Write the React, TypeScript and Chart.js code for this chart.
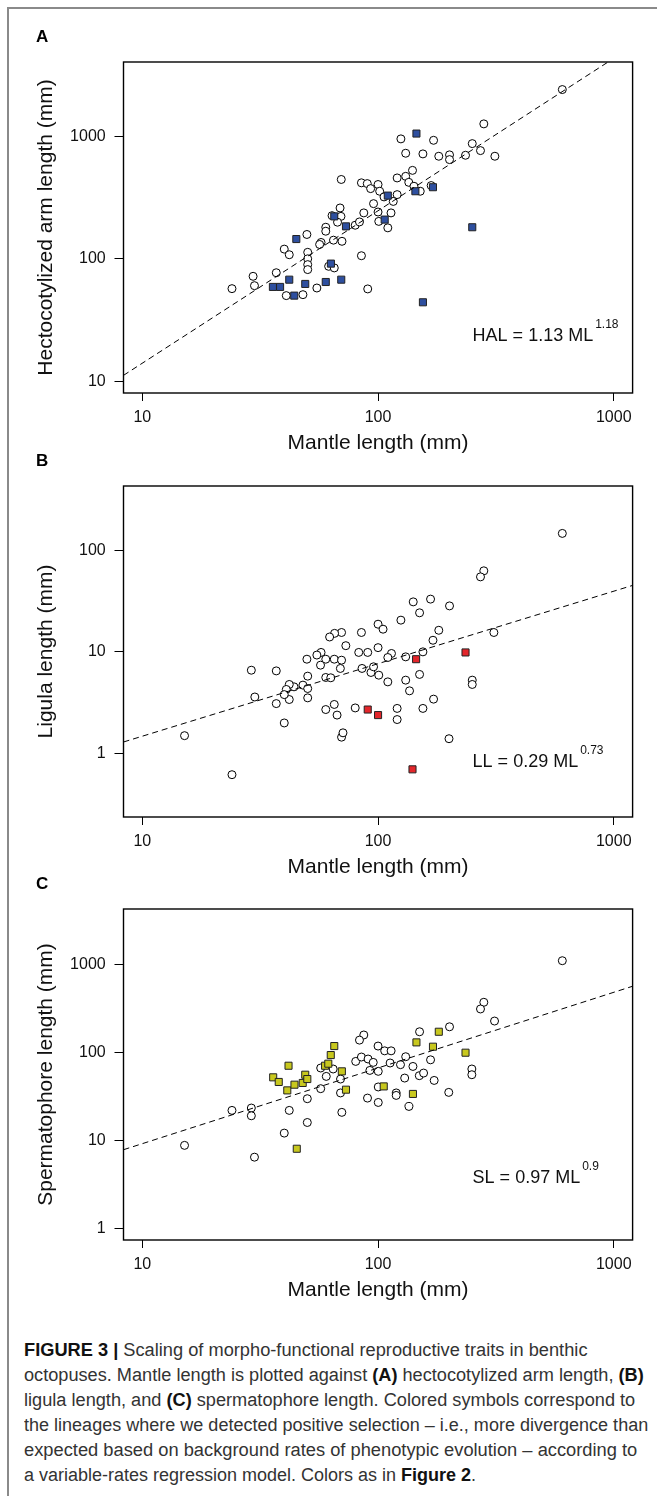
import React, { useEffect, useLayoutEffect, useRef } from 'react';
import { Chart, registerables } from 'chart.js';

Chart.register(...registerables);

const FONT = "'Liberation Sans', Arial, Helvetica, sans-serif";

// ---------- shared x axis (mantle length, mm) ----------
const xTickValues = [10, 100, 1000];
const xMin = 8.318;
const xMax = 1202;

// ---------- Panel A: hectocotylized arm length ----------
const aOpenML = [605, 281, 125, 172, 251, 131, 155, 181, 201, 201, 235, 272, 313, 140, 120.5, 131, 135, 142, 168, 151, 69.8, 85, 90, 93, 100, 101.6, 120.5, 106, 116, 95.7, 69, 87, 100, 113.5, 63.8, 69.6, 67.3, 80, 83.4, 100.7, 110, 60, 60, 49.9, 57.3, 56.5, 64.7, 70.3, 40, 42, 50.3, 50.3, 50.3, 50.3, 85, 61.7, 65.2, 55, 90.4, 40.8, 48, 24, 29.9, 29.5, 37];
const aOpenHAL = [2405, 1262, 952, 927, 871, 727, 718, 687, 705, 645, 700, 764, 687, 527, 457, 471, 421, 391, 396, 356, 444, 417, 411, 374, 404, 356, 334, 320, 294, 282, 260, 237, 241, 237, 225, 222, 199, 188, 200, 202, 179, 181, 168, 158, 136, 131, 142, 139, 120, 108, 113, 100, 89.7, 81.7, 106, 86.9, 84.3, 57.8, 56.8, 50.1, 51, 57.1, 60.4, 72, 77];
const aSelML = [145.5, 171, 144, 110, 65.2, 73.1, 106.7, 45, 63.1, 42, 49.1, 60, 69.8, 251, 155, 44.1, 35.8, 38.4];
const aSelHAL = [1052, 384, 356, 328, 222, 184, 209, 145, 91.4, 67.6, 62.4, 64.7, 67.6, 181, 44.2, 50.1, 59, 59];
const aFitML = [8.318, 946];
const aFitHAL = [11.2, 4036];
const aYTicks = [10, 100, 1000];

// ---------- Panel B: ligula length ----------
const bOpenML = [605, 281, 272, 141, 167, 201, 150, 125, 100, 105, 181, 310, 171, 85, 70, 65.4, 62.3, 73, 100, 82.8, 90.4, 114, 110, 131, 155, 57.3, 55, 49.9, 60, 65.2, 70, 69.2, 57, 85.5, 93.3, 95.7, 100.7, 110, 131, 136, 150, 251, 251, 172, 155, 120.5, 120.5, 80, 65.2, 60, 67, 48, 50.3, 50.3, 50.3, 44, 42, 40.8, 42, 60, 63, 15.1, 24, 29, 30, 37, 37, 40, 40, 70, 71, 200];
const bOpenLL = [146, 62.6, 54.6, 31, 33, 28.3, 24.2, 20.5, 18.7, 16.7, 16.3, 15.5, 13, 15.5, 15.5, 15.2, 14, 11.5, 11, 9.87, 9.87, 9.64, 8.8, 8.93, 10, 9.87, 9.3, 8.47, 8.47, 8.47, 8.28, 6.87, 7.4, 6.87, 6.27, 7.13, 5.9, 5.07, 5.27, 4.14, 6.0, 5.27, 4.78, 3.43, 2.78, 2.78, 2.16, 2.81, 3.04, 2.71, 2.39, 4.71, 5.77, 4.36, 3.53, 4.53, 4.78, 4.27, 3.4, 5.6, 5.56, 1.5, 0.62, 6.6, 3.6, 6.5, 3.1, 2.0, 3.8, 1.45, 1.6, 1.4];
const bSelML = [145, 235, 90.4, 100, 140];
const bSelLL = [8.47, 9.87, 2.71, 2.39, 0.7];
const bFitML = [8.318, 1202];
const bFitLL = [1.3, 45];
const bYTicks = [1, 10, 100];

// ---------- Panel C: spermatophore length ----------
const cOpenML = [605, 281, 272, 312, 201, 150, 87, 83.4, 100, 106.7, 113.6, 131, 167, 15.1, 24, 29, 29, 29.9, 40, 42, 50.1, 50.1, 57.1, 60.3, 57.1, 64.5, 69.3, 69.3, 70.2, 80.4, 85, 90.7, 95.4, 92.3, 100.2, 100.2, 90.2, 100.2, 112.5, 119.4, 119.4, 124.5, 140.6, 129.7, 135.2, 149.6, 156, 173, 199.5, 250, 250];
const cOpenSL = [1110, 374, 314, 229, 197, 173, 159, 139, 119, 105, 105, 90, 83, 8.85, 22.1, 23.5, 19.2, 6.5, 12.2, 22.1, 16.1, 30, 67, 53.8, 39, 65.3, 50.2, 34.9, 21, 79.6, 89.3, 84.8, 77.6, 62.9, 61.4, 40.8, 30.5, 27.2, 76.4, 34.9, 32.7, 73.1, 69.8, 51.5, 24.5, 54.8, 58.7, 48.4, 35.4, 65.3, 56.2];
const cSelML = [181, 145.5, 171, 235, 65.2, 63, 35.9, 37.9, 41.7, 41.2, 44.2, 47.9, 49.1, 50.1, 59.6, 61.5, 70.2, 73.1, 105.7, 140.6, 45.2];
const cSelSL = [173, 131, 117, 100, 119, 94, 52.5, 46.5, 71.1, 37.3, 43.3, 45.3, 56.2, 50.2, 71.1, 75, 61.4, 38, 41.4, 34, 8.1];
const cFitML = [8.318, 1202];
const cFitSL = [7.9, 569];
const cYTicks = [1, 10, 100, 1000];

const captionLines: { parts: { t: string; b?: boolean }[]; width: number }[] = [
  { parts: [{ t: 'FIGURE 3 |', b: true }, { t: ' Scaling of morpho-functional reproductive traits in benthic' }], width: 563.5 },
  { parts: [{ t: 'octopuses. Mantle length is plotted against ' }, { t: '(A)', b: true }, { t: ' hectocotylized arm length, ' }, { t: '(B)', b: true }], width: 619.7 },
  { parts: [{ t: 'ligula length, and ' }, { t: '(C)', b: true }, { t: ' spermatophore length. Colored symbols correspond to' }], width: 611.2 },
  { parts: [{ t: 'the lineages where we detected positive selection \u2013 i.e., more divergence than' }], width: 624.2 },
  { parts: [{ t: 'expected based on background rates of phenotypic evolution \u2013 according to' }], width: 613.3 },
  { parts: [{ t: 'a variable-rates regression model. Colors as in ' }, { t: 'Figure 2', b: true }, { t: '.' }], width: 452 },
];

// ---------- layout ----------
const CANVAS_W = 657;
const CANVAS_H = 456;
const AREA_TOP = 55;
const X_AXIS_H = 70;
const Y_AXIS_W = 123.5;
const RIGHT_PAD = 657 - 632.6;

type PanelCfg = {
  top: number;
  letter: string;
  yTitle: string;
  openX: number[];
  openY: number[];
  selX: number[];
  selY: number[];
  selColor: string;
  fitX: number[];
  fitY: number[];
  yMin: number;
  yMax: number;
  yTicks: number[];
  eqMain: string;
  eqSup: string;
  eqDy: number;
};

const panels: PanelCfg[] = [
  {
    top: 7, letter: 'A', yTitle: 'Hectocotylized arm length (mm)',
    openX: aOpenML, openY: aOpenHAL, selX: aSelML, selY: aSelHAL, selColor: '#2e4f9f',
    fitX: aFitML, fitY: aFitHAL, yMin: 8.04, yMax: 4036, yTicks: aYTicks,
    eqMain: 'HAL = 1.13 ML', eqSup: '1.18', eqDy: 56.6,
  },
  {
    top: 431, letter: 'B', yTitle: 'Ligula length (mm)',
    openX: bOpenML, openY: bOpenLL, selX: bSelML, selY: bSelLL, selColor: '#e3262b',
    fitX: bFitML, fitY: bFitLL, yMin: 0.238, yMax: 427, yTicks: bYTicks,
    eqMain: 'LL = 0.29 ML', eqSup: '0.73', eqDy: 55,
  },
  {
    top: 854, letter: 'C', yTitle: 'Spermatophore length (mm)',
    openX: cOpenML, openY: cOpenSL, selX: cSelML, selY: cSelSL, selColor: '#c8c81e',
    fitX: cFitML, fitY: cFitSL, yMin: 0.744, yMax: 4295, yTicks: cYTicks,
    eqMain: 'SL = 0.97 ML', eqSup: '0.9', eqDy: 61.7,
  },
];

const annotPlugin = {
  id: 'annot',
  afterDraw(chart: any, _args: any, opts: any) {
    const { ctx, chartArea: ca } = chart;
    ctx.save();
    ctx.strokeStyle = '#000';
    ctx.lineWidth = 1.4;
    ctx.strokeRect(ca.left, ca.top, ca.right - ca.left, ca.bottom - ca.top);
    ctx.fillStyle = '#000';
    ctx.textBaseline = 'middle';
    ctx.textAlign = 'left';
    ctx.font = `bold 17px ${FONT}`;
    ctx.fillText(opts.letter, 36, ca.top - 25);
    ctx.fillStyle = '#111';
    ctx.font = `18px ${FONT}`;
    const x0 = 472.6;
    const y0 = ca.bottom - opts.eqDy;
    ctx.fillText(opts.eqMain, x0, y0);
    const w = ctx.measureText(opts.eqMain).width;
    ctx.font = `12px ${FONT}`;
    ctx.fillText(opts.eqSup, x0 + w + 2, y0 - 11.5);
    ctx.restore();
  },
};

function Panel({ cfg }: { cfg: PanelCfg }) {
  const ref = useRef<HTMLCanvasElement>(null);
  useEffect(() => {
    const canvas = ref.current!;
    const chart = new Chart(canvas, {
      type: 'scatter',
      data: {
        datasets: [
          {
            type: 'line',
            data: cfg.fitX.map((x, i) => ({ x, y: cfg.fitY[i] })),
            borderColor: '#000',
            borderWidth: 1,
            borderDash: [6, 4],
            pointRadius: 0,
            fill: false,
            order: 0,
          } as any,
          {
            data: cfg.selX.map((x, i) => ({ x, y: cfg.selY[i] })),
            pointStyle: 'rect',
            pointRadius: 5,
            backgroundColor: cfg.selColor,
            borderColor: '#222',
            borderWidth: 1,
            order: 1,
          },
          {
            data: cfg.openX.map((x, i) => ({ x, y: cfg.openY[i] })),
            pointStyle: 'circle',
            pointRadius: 4,
            backgroundColor: '#fff',
            borderColor: '#000',
            borderWidth: 1,
            order: 2,
          },
        ],
      },
      options: {
        responsive: false,
        animation: false,
        devicePixelRatio: 1,
        events: [],
        layout: { padding: { left: 0, top: AREA_TOP, right: RIGHT_PAD, bottom: 0 } },
        plugins: {
          legend: { display: false },
          tooltip: { enabled: false },
          annot: { letter: cfg.letter, eqMain: cfg.eqMain, eqSup: cfg.eqSup, eqDy: cfg.eqDy },
        } as any,
        scales: {
          x: {
            type: 'logarithmic',
            min: xMin,
            max: xMax,
            bounds: 'data',
            afterBuildTicks: (s: any) => { s.ticks = xTickValues.map((v) => ({ value: v })); },
            afterFit: (s: any) => { s.height = X_AXIS_H; },
            ticks: {
              callback: (v: any) => String(v),
              font: { family: FONT, size: 16 },
              color: '#111',
              padding: 7.2,
              autoSkip: false,
              maxRotation: 0,
              minRotation: 0,
            },
            grid: { drawOnChartArea: false, drawTicks: true, tickLength: 8, color: '#000', lineWidth: 1 },
            border: { display: false },
            title: {
              display: true,
              text: 'Mantle length (mm)',
              font: { family: FONT, size: 21 },
              color: '#111',
              padding: { top: 0, bottom: 7.4 },
            },
          },
          y: {
            type: 'logarithmic',
            min: cfg.yMin,
            max: cfg.yMax,
            bounds: 'data',
            afterBuildTicks: (s: any) => { s.ticks = cfg.yTicks.map((v) => ({ value: v })); },
            afterFit: (s: any) => { s.width = Y_AXIS_W; },
            ticks: {
              callback: (v: any) => String(v),
              font: { family: FONT, size: 16 },
              color: '#111',
              padding: 8.8,
              autoSkip: false,
            },
            grid: { drawOnChartArea: false, drawTicks: true, tickLength: 9, color: '#000', lineWidth: 1 },
            border: { display: false },
            title: {
              display: true,
              text: cfg.yTitle,
              font: { family: FONT, size: 21 },
              color: '#111',
              padding: { top: 33.4, bottom: 0 },
            },
          },
        },
      } as any,
      plugins: [annotPlugin],
    });
    return () => chart.destroy();
  }, [cfg]);
  return (
    <canvas
      ref={ref}
      width={CANVAS_W}
      height={CANVAS_H}
      style={{ position: 'absolute', left: 0, top: cfg.top, width: CANVAS_W, height: CANVAS_H }}
    />
  );
}

function FitLine({ parts, width, top }: { parts: { t: string; b?: boolean }[]; width: number; top: number }) {
  const ref = useRef<HTMLDivElement>(null);
  useLayoutEffect(() => {
    const el = ref.current!;
    const fit = () => {
      el.style.transform = 'none';
      const w = el.getBoundingClientRect().width;
      if (w > 0) el.style.transform = `scaleX(${width / w})`;
    };
    fit();
    if ((document as any).fonts && (document as any).fonts.ready) {
      (document as any).fonts.ready.then(fit);
    }
  }, [width]);
  return (
    <div
      ref={ref}
      style={{
        position: 'absolute',
        left: 24.3,
        top,
        whiteSpace: 'pre',
        fontFamily: FONT,
        fontSize: 18,
        lineHeight: '22px',
        color: '#333',
        transformOrigin: '0 50%',
      }}
    >
      {parts.map((p, i) =>
        p.b ? (
          <span key={i} style={{ fontWeight: 'bold', color: '#111' }}>{p.t}</span>
        ) : (
          <span key={i}>{p.t}</span>
        )
      )}
    </div>
  );
}

export default function App() {
  return (
    <div
      style={{
        position: 'absolute',
        left: 0,
        top: 0,
        width: 657,
        height: 1496,
        overflow: 'hidden',
        background: '#fff',
      }}
    >
      <div
        style={{
          position: 'absolute',
          left: 7,
          top: 7,
          width: 700,
          height: 1600,
          borderTop: '2px solid #8a8a8a',
          borderLeft: '2px solid #8a8a8a',
        }}
      />
      {panels.map((p) => (
        <Panel key={p.letter} cfg={p} />
      ))}
      {captionLines.map((l, i) => (
        <FitLine key={i} parts={l.parts} width={l.width} top={1350 + i * 25 - 11} />
      ))}
    </div>
  );
}
